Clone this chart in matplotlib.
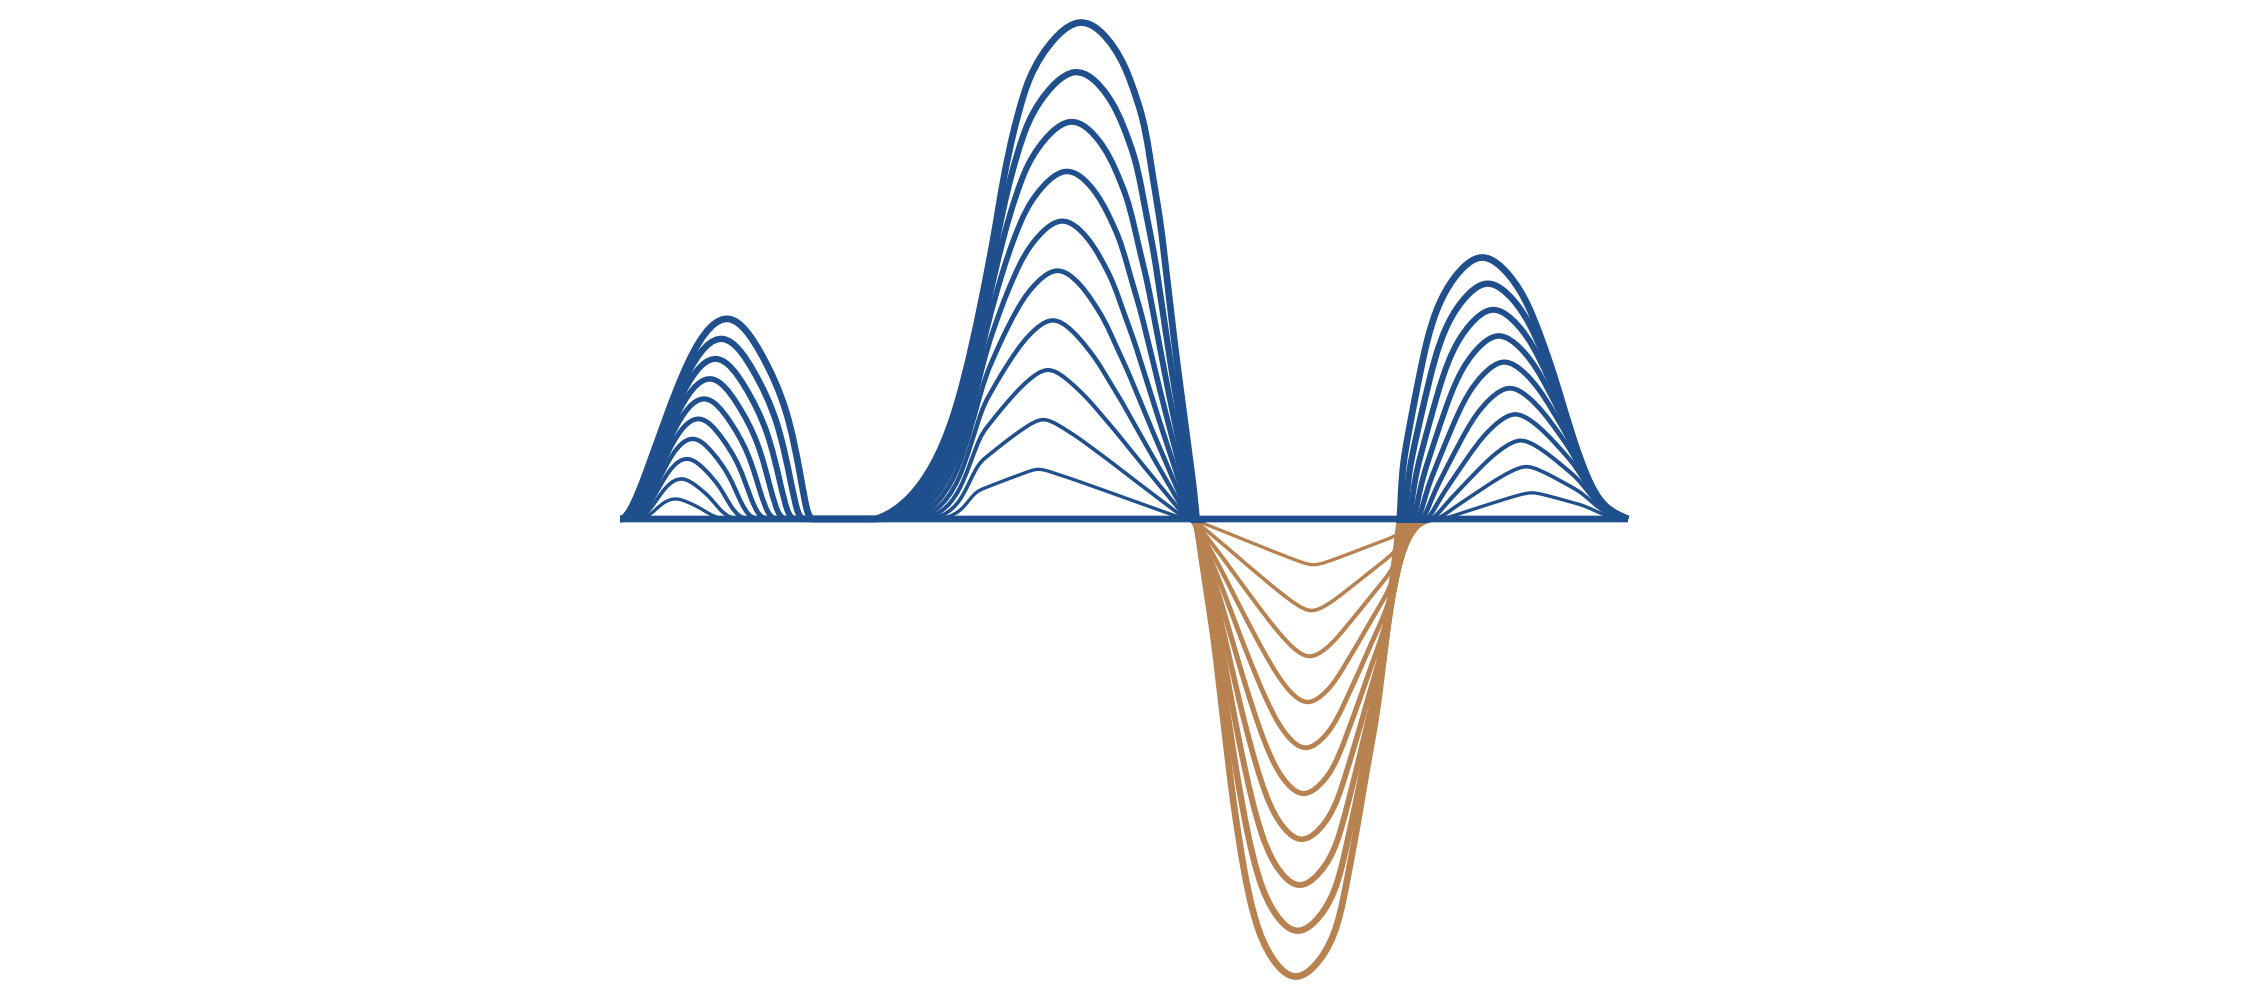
import numpy as np
import matplotlib
matplotlib.use('Agg')
import matplotlib.pyplot as plt
from matplotlib.path import Path
from matplotlib.patches import PathPatch, Rectangle

# one series, drawn as bundled basis curves (beta 0.1 .. 1.0)
x_vals = [0, 2, 6, 20, 70, 110, 143, 168, 181, 187, 191,
          194, 197, 200, 203, 206, 209, 212, 215, 218, 221, 224,
          227, 230, 233, 236, 239, 242, 245, 248, 251, 254, 258,
          290, 335, 372, 378, 384.5, 392.5, 402.5, 416, 460, 498, 511.5, 523,
          529, 534, 540, 544, 548, 552, 556, 560.5, 565, 569.5, 574, 576.5,
          577.5, 583, 589, 594.6, 599, 603.5, 608, 612.6, 618.4, 624.5, 632.5,
          645, 675, 708.5, 720.5, 727.5, 734.5, 741, 747, 754, 759.5, 767,
          772.5, 777, 779, 780,
          781, 783, 788.6, 794.4, 800.6, 807.2, 816.5, 832.5, 862, 892, 908, 919,
          929, 938, 953, 969, 985, 1008]
y_vals = [0, 0, 2, 25, 175, 215, 165, 110, 40, 6, 0,
          0, 0, 0, 0, 0, 0, 0, 0, 0, 0, 0,
          0, 0, 0, 0, 0, 0, 0, 0, 0, 0, 0,
          16, 85, 270, 308, 346, 384, 422, 460, 512, 470, 436, 402,
          368, 334, 300, 266, 232, 198, 164, 130, 96, 62, 28, 0,
          -10, -48, -87, -125, -163, -202, -240, -278, -317, -355, -393,
          -432, -470, -433, -396, -359, -322, -285, -248, -211, -174, -110,
          -60, -25, -8, 0,
          25, 56, 87, 118, 149, 180, 211, 242, 271, 243, 215, 187,
          159, 131, 80, 35, 10, 0]

betas = [0.1, 0.2, 0.3, 0.4, 0.5, 0.6, 0.7, 0.8, 0.9, 1.0]

blue = '#1f4f8c'
orange = '#b88250'


def bundle_path(xs, ys, beta):
    n = len(xs)
    x0, y0 = xs[0], ys[0]
    dx, dy = xs[-1] - x0, ys[-1] - y0
    p = [(beta * xs[i] + (1 - beta) * (x0 + i / (n - 1) * dx),
          beta * ys[i] + (1 - beta) * (y0 + i / (n - 1) * dy)) for i in range(n)]
    verts = [p[0]]
    codes = [Path.MOVETO]
    verts.append(((5 * p[0][0] + p[1][0]) / 6, (5 * p[0][1] + p[1][1]) / 6))
    codes.append(Path.LINETO)
    seq = p + [p[-1]]
    for i in range(2, len(seq)):
        a, b, c = seq[i - 2], seq[i - 1], seq[i]
        verts += [((2 * a[0] + b[0]) / 3, (2 * a[1] + b[1]) / 3),
                  ((a[0] + 2 * b[0]) / 3, (a[1] + 2 * b[1]) / 3),
                  ((a[0] + 4 * b[0] + c[0]) / 6, (a[1] + 4 * b[1] + c[1]) / 6)]
        codes += [Path.CURVE4] * 3
    verts.append(p[-1])
    codes.append(Path.LINETO)
    return Path(verts, codes)


fig = plt.figure(figsize=(22.5, 10), dpi=100)
ax = fig.add_axes([0, 0, 1, 1])
ax.set_xlim(-620, 1630)
ax.set_ylim(-481, 519)
ax.axis('off')

split = -3.5
top_clip = Rectangle((-2000, split), 5000, 2000, transform=ax.transData)
bot_clip = Rectangle((-2000, -2000), 5000, 2000 + split, transform=ax.transData)

# baseline (beta = 0)
ax.add_patch(PathPatch(bundle_path(x_vals, y_vals, 0.0), fill=False,
                       edgecolor=blue, lw=4.8, capstyle='butt'))

for k, b in enumerate(betas, start=1):
    path = bundle_path(x_vals, y_vals, b)
    lw = (2.9 + 0.38 * k) * 0.72
    for col, clip in [(blue, top_clip), (orange, bot_clip)]:
        pp = PathPatch(path, fill=False, edgecolor=col, lw=lw,
                       capstyle='butt', joinstyle='round')
        ax.add_patch(pp)
        pp.set_clip_path(clip)

fig.savefig('out.png', dpi=100, facecolor='white')
